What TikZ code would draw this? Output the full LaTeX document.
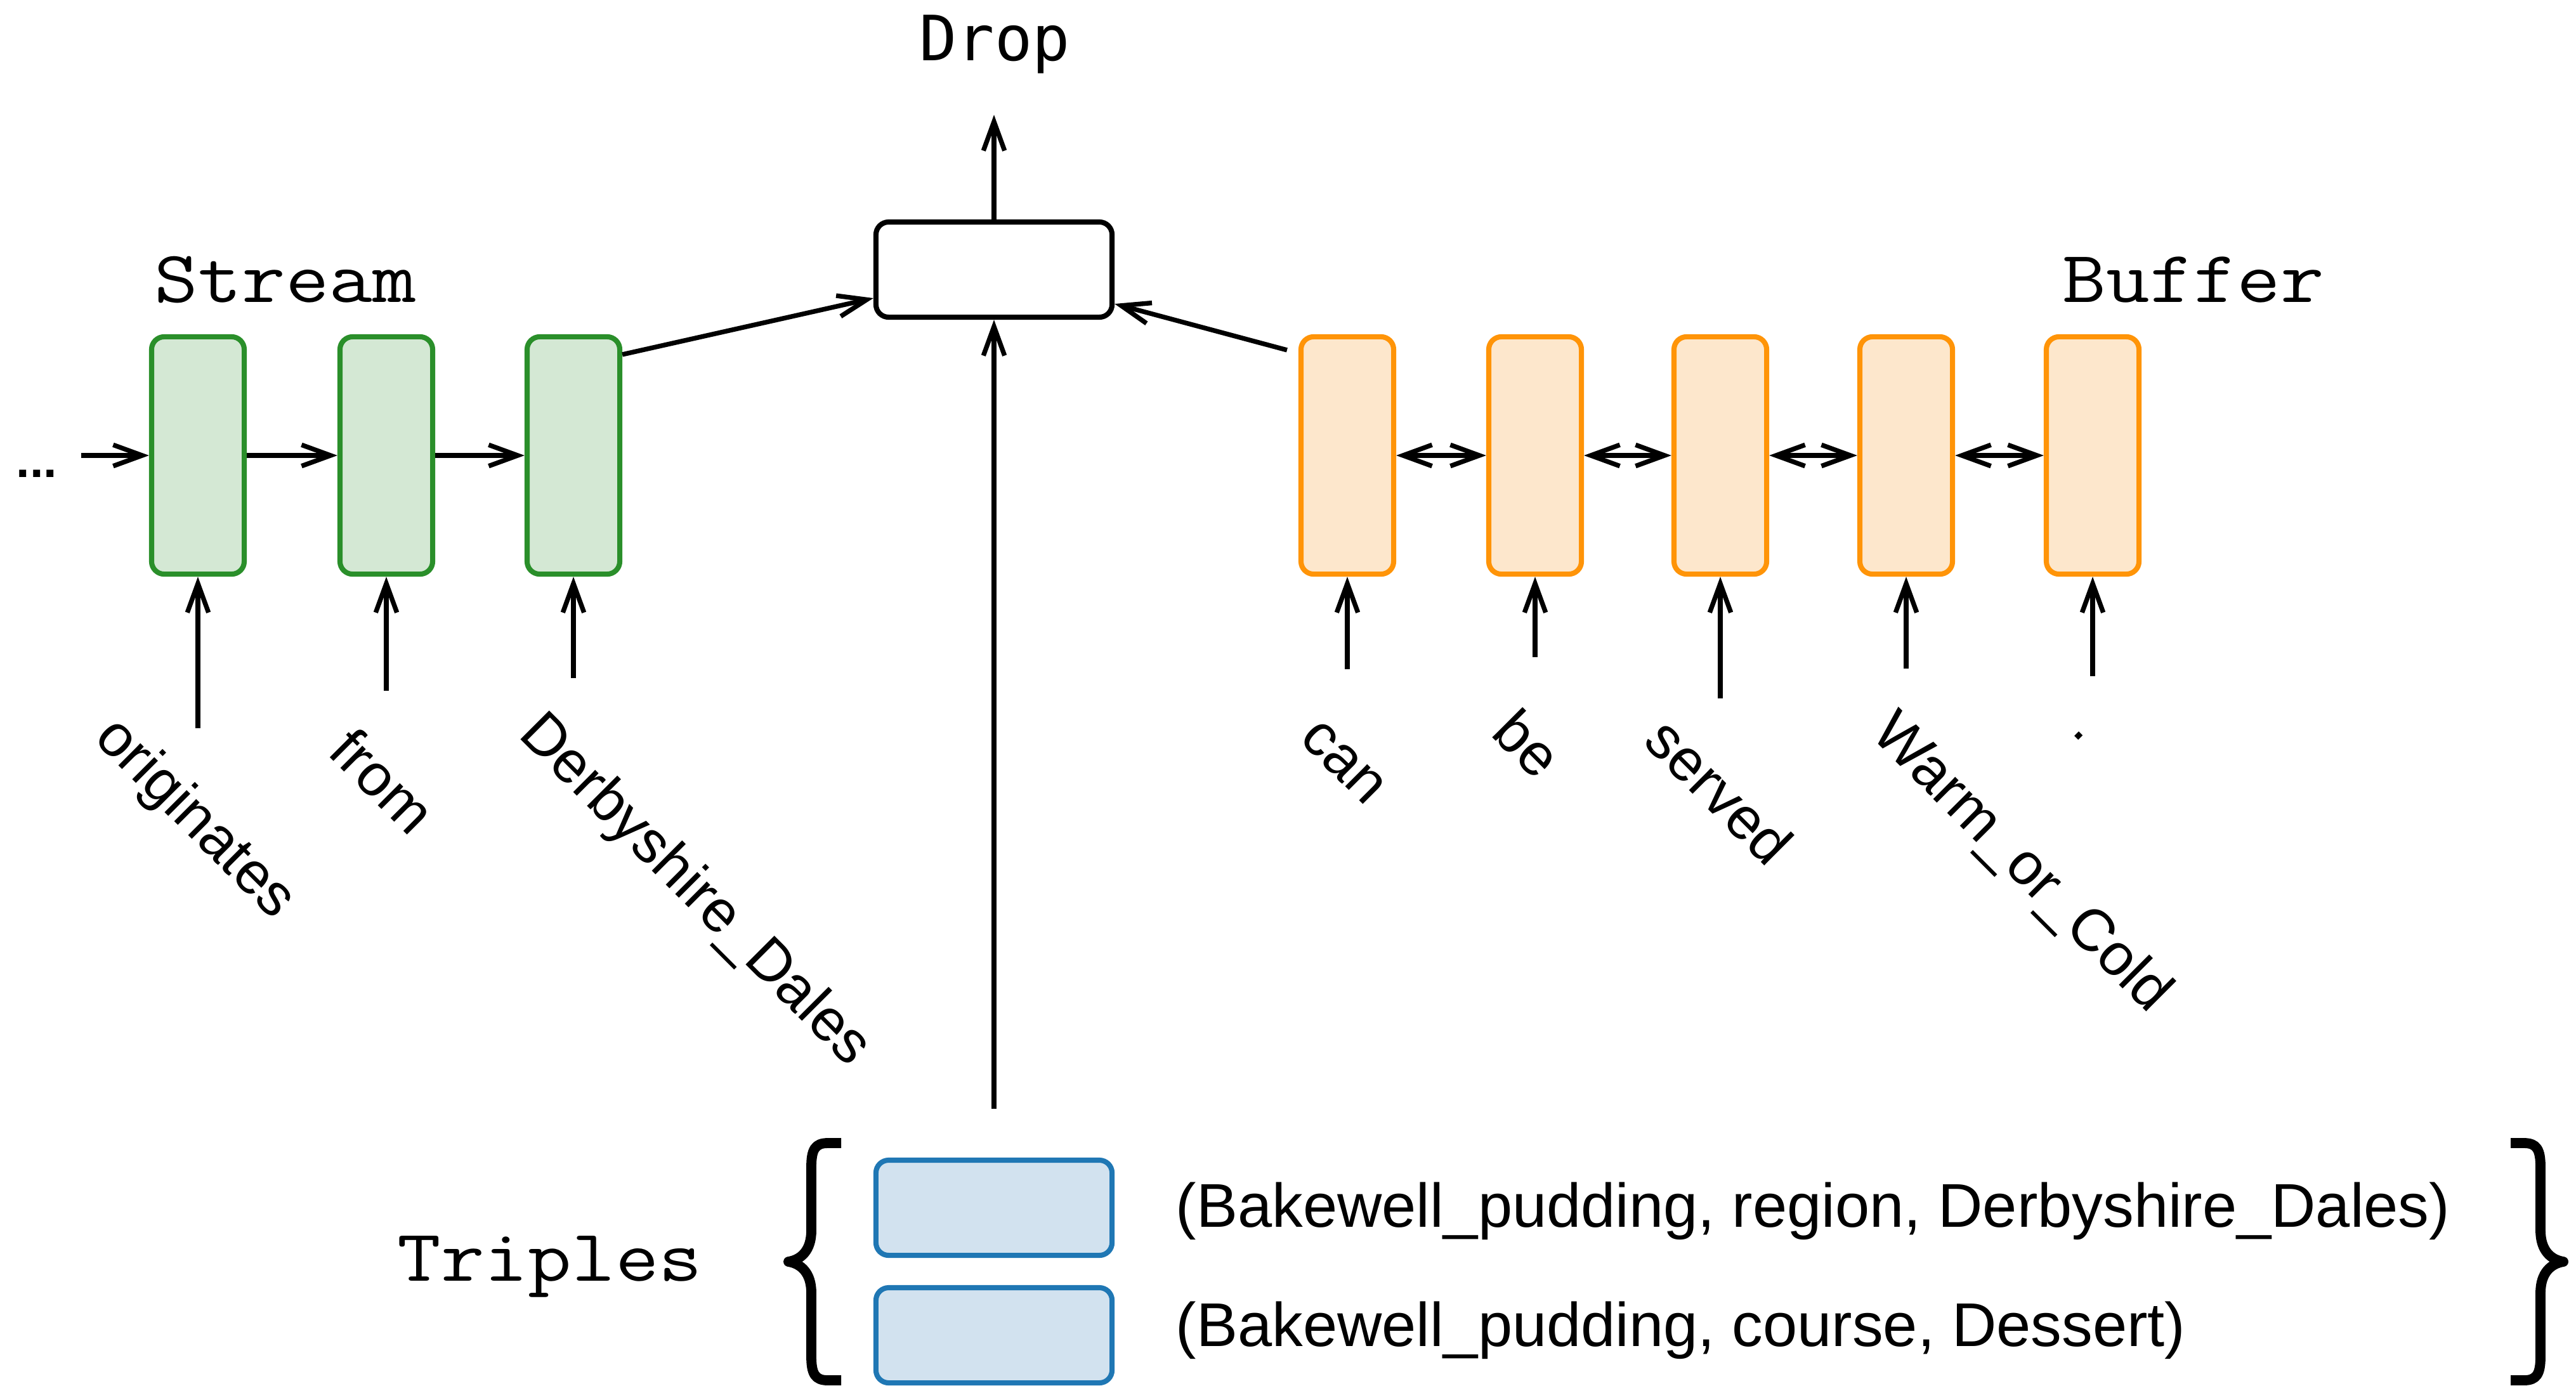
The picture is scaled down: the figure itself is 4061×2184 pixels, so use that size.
\documentclass[tikz,border=0pt]{standalone}
\usepackage{fontspec}
\usepackage{graphicx}
\setmainfont{Liberation Sans}
\newfontfamily\dropmono{DejaVu Sans Mono}
\usetikzlibrary{arrows.meta}
\definecolor{sgreen}{HTML}{2A8F2A}
\definecolor{sgreenfill}{HTML}{D4E8D4}
\definecolor{borange}{HTML}{FF9408}
\definecolor{borangefill}{HTML}{FDE7CC}
\definecolor{tblue}{HTML}{1F77B4}
\definecolor{tbluefill}{HTML}{D2E2EF}
\newcommand{\widemono}[1]{\scalebox{1.15}[1]{#1}}
\tikzset{
  cell/.style={rounded corners=0.2cm, line width=2.3pt, minimum width=1.46cm, minimum height=3.74cm, inner sep=0pt},
  streamcell/.style={cell, draw=sgreen, fill=sgreenfill},
  buffercell/.style={cell, draw=borange, fill=borangefill},
  widebox/.style={rounded corners=0.2cm, line width=2.3pt, minimum width=3.72cm, minimum height=1.5cm, inner sep=0pt},
  dropbox/.style={widebox, draw=black, fill=white},
  triplebox/.style={widebox, draw=tblue, fill=tbluefill},
  barb/.tip={Straight Barb[length=13pt, width=9.5pt]},
  arr/.style={line width=2.1pt, -barb},
  darr/.style={line width=2.1pt, barb-barb},
  word/.style={rotate=-45, inner sep=0pt, font=\fontsize{26.5}{31}\selectfont},
  monolabel/.style={inner sep=0pt, font=\ttfamily\fontsize{33}{38}\selectfont},
  tripletext/.style={inner sep=0pt, anchor=base west, font=\fontsize{27.7}{33}\selectfont},
  bracestroke/.style={line width=4.5pt, line join=round, line cap=butt},
}
\begin{document}
\begin{tikzpicture}[x=0.01cm, y=-0.01cm]
\useasboundingbox (0,0) rectangle (4061,2184);

% stream cells
\node[streamcell] (s1) at (312,718) {};
\node[streamcell] (s2) at (609,718) {};
\node[streamcell] (s3) at (904,718) {};
% buffer cells
\node[buffercell] (b1) at (2124,718) {};
\node[buffercell] (b2) at (2420,718) {};
\node[buffercell] (b3) at (2712,718) {};
\node[buffercell] (b4) at (3005,718) {};
\node[buffercell] (b5) at (3299,718) {};
% drop box
\node[dropbox] (drop) at (1567,425) {};
% triple boxes
\node[triplebox] (t1) at (1567,1904) {};
\node[triplebox] (t2) at (1567,2105) {};

% labels
\node[monolabel, anchor=base] (streamlbl) at (450,476) {\widemono{Stream}};
\node[monolabel, anchor=base] (bufferlbl) at (3458,476) {\widemono{Buffer}};
\node[monolabel, anchor=base] (tripleslbl) at (867,2019) {\widemono{Triples}};
\node[inner sep=0pt, anchor=base, font=\dropmono\fontsize{28}{33}\selectfont] (droplbl) at (1568,95) {Drop};
\node[inner sep=0pt, anchor=base, font=\bfseries\fontsize{22}{26}\selectfont] (dots) at (58,752) {...};

% triple texts
\node[tripletext] (tr1) at (1853,1934) {(Bakewell\_pudding, region, Derbyshire\_Dales)};
\node[tripletext] (tr2) at (1853,2122) {(Bakewell\_pudding, course, Dessert)};

% words
\node[word] (w1) at (306,1292) {originates};
\node[word] (w2) at (604,1231) {from};
\node[word] (w3) at (1094,1405) {Derbyshire\_Dales};
\node[word] (w4) at (2117,1202) {can};
\node[word] (w5) at (2409,1172) {be};
\node[word] (w6) at (2711,1247) {served};
\node[word] (w7) at (3185,1362) {Warm\_or\_Cold};
\node[word] (w8) at (3277,1160) {.};

% free ends
\coordinate (sin) at (128,718);
\coordinate (dropout) at (1567,181);
\coordinate (tripin) at (1567,1748);
\coordinate (i1) at (312,1148);
\coordinate (i2) at (609,1089);
\coordinate (i3) at (904,1069);
\coordinate (j1) at (2124,1055);
\coordinate (j2) at (2420,1036);
\coordinate (j3) at (2712,1101);
\coordinate (j4) at (3005,1054);
\coordinate (j5) at (3299,1066);

% stream arrows
\draw[arr] (sin) -- (s1.west);
\draw[arr] (s1.east) -- (s2.west);
\draw[arr] (s2.east) -- (s3.west);
% buffer double arrows
\draw[darr] (b1.east) -- (b2.west);
\draw[darr] (b2.east) -- (b3.west);
\draw[darr] (b3.east) -- (b4.west);
\draw[darr] (b4.east) -- (b5.west);
% into drop box
\draw[arr] ([yshift=-0.32cm]s3.north east) -- ([yshift=-0.45cm]drop.west);
\draw[arr] ([xshift=-0.18cm,yshift=-0.25cm]b1.north west) -- ([yshift=-0.54cm]drop.east);
\draw[arr] (drop.north) -- (dropout);
\draw[arr] (tripin) -- (drop.south);
% inputs
\draw[arr] (i1) -- (s1.south);
\draw[arr] (i2) -- (s2.south);
\draw[arr] (i3) -- (s3.south);
\draw[arr] (j1) -- (b1.south);
\draw[arr] (j2) -- (b2.south);
\draw[arr] (j3) -- (b3.south);
\draw[arr] (j4) -- (b4.south);
\draw[arr] (j5) -- (b5.south);

% braces
\draw[bracestroke] (1326,1802) -- (1305,1802) .. controls (1285,1802) and (1279,1812) .. (1279,1840) -- (1279,1940) .. controls (1279,1972) and (1262,1986) .. (1243,1989) .. controls (1262,1992) and (1279,2006) .. (1279,2038) -- (1279,2138) .. controls (1279,2166) and (1285,2176) .. (1305,2176) -- (1326,2176);
\draw[bracestroke] (3958,1802) -- (3979,1802) .. controls (3999,1802) and (4005,1812) .. (4005,1840) -- (4005,1940) .. controls (4005,1972) and (4022,1986) .. (4041,1989) .. controls (4022,1992) and (4005,2006) .. (4005,2038) -- (4005,2138) .. controls (4005,2166) and (3999,2176) .. (3979,2176) -- (3958,2176);
\end{tikzpicture}
\end{document}
